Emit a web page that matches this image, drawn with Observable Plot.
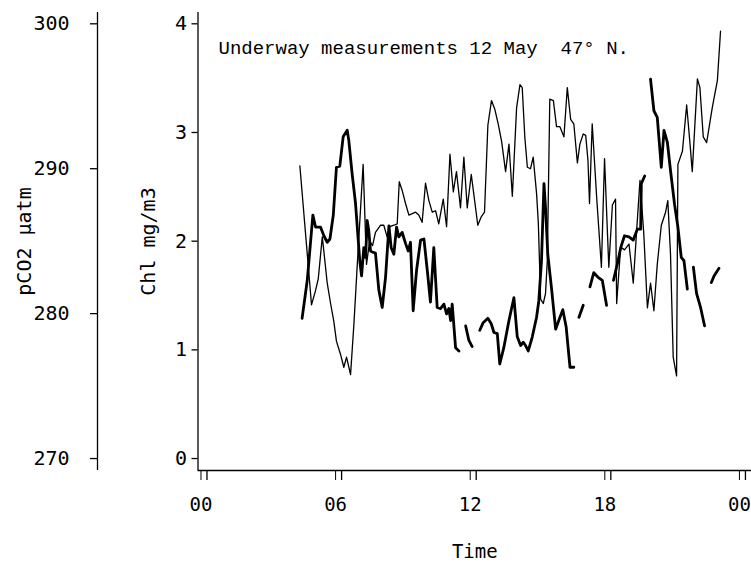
<!DOCTYPE html>
<html><head><meta charset="utf-8">
<script src="https://cdn.jsdelivr.net/npm/d3@7"></script>
<script src="https://cdn.jsdelivr.net/npm/@observablehq/plot@0.6"></script>
<style>
html,body{margin:0;padding:0;background:#fff;}
</style></head><body><div id="chart"></div>
<script>
const title = "Underway measurements 12 May  47\u00B0 N.";
const xLabel = "Time";
const chlLabel = "Chl mg/m3";
const pco2Label = "pCO2 \u00B5atm";
const timeTicks = [0, 6, 12, 18, 24];
const timeTickLabels = ["00", "06", "12", "18", "00"];
const chlTicks = [0, 1, 2, 3, 4];
const pco2Ticks = [270, 280, 290, 300];

// thin line: pCO2 (µatm) vs hour of day
const pco2Hour = [
  4.14,4.66,4.84,4.96,5.14,5.36,5.51,5.65,5.77,5.95,
  6.10,6.22,6.40,6.55,6.70,6.96,7.11,7.25,7.38,7.51,
  7.74,7.88,8.03,8.15,8.33,8.48,8.57,8.70,8.85,9.00,
  9.15,9.30,9.44,9.59,9.74,9.89,10.04,10.19,10.33,10.53,
  10.68,10.83,10.98,11.12,11.30,11.45,11.60,11.78,11.93,12.07,
  12.23,12.37,12.52,12.68,12.83,12.98,13.13,13.31,13.46,13.61,
  13.80,13.95,14.05,14.17,14.28,14.42,14.54,14.69,14.77,14.87,
  14.99,15.09,15.17,15.28,15.44,15.58,15.73,15.91,16.06,16.21,
  16.35,16.51,16.62,16.77,16.88,16.98,17.05,17.17,17.37,17.58,
  17.72,17.91,18.07,18.21,18.26,18.44,18.61,18.81,19.00,19.15,
  19.30,19.47,19.63,19.77,19.92,20.07,20.25,20.44,20.54,20.66,
  20.78,20.93,20.99,21.19,21.38,21.53,21.63,21.86,21.97,22.12,
  22.27,22.52,22.75,22.89
];
const pco2Value = [
  290.2,280.6,281.6,282.4,285.3,282.1,280.7,279.5,278.1,277.2,
  276.3,277.0,275.8,279.3,283.4,290.3,283.4,285.0,284.7,285.6,
  286.1,286.1,285.3,286.0,286.1,286.2,289.1,288.5,287.6,286.8,
  286.9,287.0,286.8,286.3,289.0,287.8,287.0,287.1,286.2,287.9,
  286.0,291.0,288.4,289.8,287.3,290.8,287.3,289.6,287.8,286.1,
  286.7,287.0,293.0,294.7,294.1,293.1,291.9,289.8,291.7,288.1,
  294.2,295.8,295.6,292.1,290.1,290.0,290.8,288.3,286.2,281.0,
  280.7,281.4,283.7,294.8,294.7,292.9,292.9,292.2,295.6,293.4,
  293.1,290.4,291.7,292.4,292.3,290.6,287.6,293.1,288.0,283.2,
  290.7,283.2,287.5,287.9,280.7,284.6,284.4,284.8,282.1,285.7,
  289.2,285.5,280.4,282.1,280.2,283.4,286.1,287.0,287.8,284.1,
  277.0,275.7,290.3,291.2,294.4,291.7,289.8,296.2,295.6,292.2,
  291.8,294.2,296.1,299.5
];

// thick line: Chl (mg/m3) vs hour of day; null = gap in record
const chlHour = [
  4.24,4.47,4.72,4.84,4.94,5.06,5.21,5.36,5.48,5.63,
  5.77,5.92,6.07,6.25,6.32,6.47,6.62,6.72,6.81,6.89,
  6.99,7.07,7.14,7.21,7.29,7.37,7.51,7.66,7.81,7.96,
  8.11,8.21,8.33,8.45,8.55,8.70,8.85,8.97,9.07,9.19,
  9.34,9.52,9.67,9.82,9.96,10.11,10.26,10.41,10.56,10.68,
  10.78,10.86,10.93,11.08,11.23,
  11.37,
  11.53,11.67,11.82,
  12.00,
  12.16,12.31,12.52,12.67,12.79,12.94,13.05,13.23,13.46,13.68,
  13.83,13.98,14.10,14.20,14.32,14.50,14.69,14.79,14.91,15.02,
  15.09,15.19,15.35,15.54,15.68,15.86,16.01,16.18,16.35,
  16.46,
  16.58,16.77,
  16.90,
  17.07,17.24,17.42,17.62,17.81,
  17.97,
  18.12,18.30,18.44,18.61,18.81,19.00,19.18,19.33,19.36,19.51,
  19.64,
  19.77,19.92,20.07,20.25,20.37,20.52,20.66,20.84,20.99,21.14,21.26,21.41,
  21.55,
  21.68,21.82,22.00,22.18,
  22.33,
  22.48,22.60,22.82
];
const chlValue = [
  1.29,1.64,2.24,2.13,2.13,2.13,2.05,1.99,2.02,2.24,
  2.68,2.69,2.96,3.02,2.93,2.62,2.35,2.07,1.82,1.68,
  1.94,1.85,2.19,2.10,1.91,1.90,1.89,1.55,1.39,1.67,
  2.14,1.94,1.88,2.13,2.04,2.08,1.98,1.91,1.99,1.36,
  1.73,2.01,2.02,1.73,1.44,1.94,1.39,1.38,1.42,1.33,
  1.38,1.27,1.42,1.02,0.99,
  null,
  1.22,1.09,1.03,
  null,
  1.18,1.25,1.29,1.24,1.16,1.15,0.87,1.02,1.27,1.48,
  1.12,1.04,1.07,1.04,0.99,1.12,1.30,1.45,1.82,2.53,
  2.31,1.88,1.58,1.19,1.27,1.37,1.21,0.84,0.84,
  null,
  1.30,1.41,
  null,
  1.58,1.71,1.67,1.64,1.41,
  null,
  1.64,1.80,1.94,2.05,2.04,2.01,2.11,2.11,2.53,2.60,
  null,
  3.49,3.20,3.14,2.68,3.02,2.91,2.65,2.34,2.13,1.85,1.82,1.56,
  null,
  1.76,1.52,1.39,1.22,
  null,
  1.62,1.68,1.75
];

// pCO2 axis shares the plot height: 270..300 µatm <-> 0..4 mg/m3
const PCO2_BASE = 270, PCO2_PER_CHL = 7.5;
const toChl = p => (p - PCO2_BASE) / PCO2_PER_CHL;
const toPco2 = c => PCO2_BASE + PCO2_PER_CHL * c;

const pco2Data = pco2Hour.map((h, i) => ({hour: h, y: toChl(pco2Value[i])}));
const chlData = chlHour.map((h, i) => ({hour: h, y: chlValue[i] == null ? NaN : chlValue[i]}));

const X0 = -0.4, Y0 = -0.11;
const mono = "'DejaVu Sans Mono', monospace";

const chart = Plot.plot({
  width: 751, height: 563,
  marginLeft: 197.5, marginRight: 0, marginTop: 12, marginBottom: 93,
  style: {fontFamily: mono, fontSize: "20px", color: "#000", background: "#fff", overflow: "visible"},
  x: {domain: [X0, 24.27]},
  y: {domain: [Y0, 4.104]},
  marks: [
    Plot.ruleX([X0], {stroke: "#000", strokeWidth: 1.3}),
    Plot.ruleX([X0], {dx: -100.5, stroke: "#000", strokeWidth: 1.3}),
    Plot.ruleY([Y0], {stroke: "#000", strokeWidth: 1.6}),
    Plot.axisY({ticks: chlTicks, tickSize: 6, tickPadding: 5, tickFormat: d => String(d), label: null, fontSize: 20, strokeWidth: 1.3}),
    Plot.axisY({ticks: pco2Ticks.map(toChl), tickFormat: d => String(Math.round(toPco2(d))), dx: -100.5, tickSize: 7, tickPadding: 21, label: null, fontSize: 20, strokeWidth: 1.3}),
    Plot.axisX({ticks: timeTicks, tickSize: 10, label: null, tickFormat: null, strokeWidth: 1.3, text: null}),
    Plot.axisX({ticks: timeTicks, tickFormat: d => timeTickLabels[timeTicks.indexOf(d)], tickSize: 10, tickPadding: 17, dx: -6, label: null, fontSize: 19, tick: false}),
    Plot.line(pco2Data, {x: "hour", y: "y", stroke: "#000", strokeWidth: 1.3}),
    Plot.line(chlData, {x: "hour", y: "y", stroke: "#000", strokeWidth: 2.8}),
    Plot.text([title], {text: d => d, frameAnchor: "top-left", textAnchor: "start", lineAnchor: "top", dx: 20.5, dy: 27.5, fontFamily: "'Liberation Mono', monospace", fontSize: 19}),
    Plot.text([xLabel], {text: d => d, frameAnchor: "bottom", textAnchor: "middle", lineAnchor: "middle", dy: 81, fontSize: 19}),
    Plot.text([chlLabel], {text: d => d, frameAnchor: "left", textAnchor: "middle", lineAnchor: "middle", rotate: -90, dx: -49.5, fontSize: 20}),
    Plot.text([pco2Label], {text: d => d, frameAnchor: "left", textAnchor: "middle", lineAnchor: "middle", rotate: -90, dx: -173.5, fontSize: 20})
  ]
});
document.getElementById("chart").appendChild(chart);
</script>
</body></html>
